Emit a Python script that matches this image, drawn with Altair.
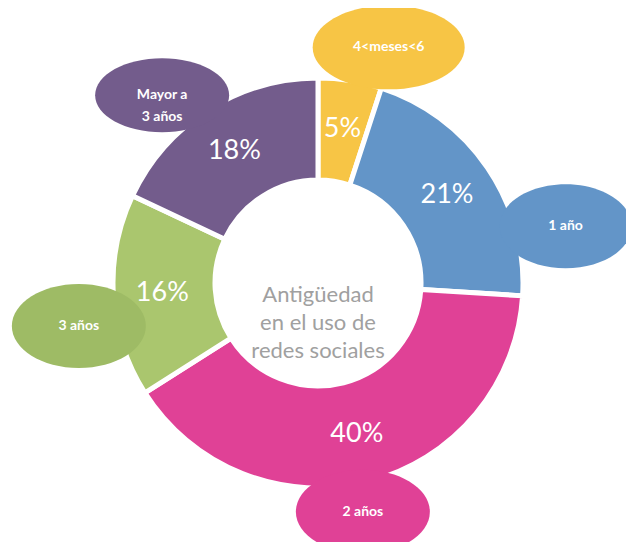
import math
import altair as alt
import pandas as pd

# ---------------- data ----------------
categories = ["4<meses<6", "1 año", "2 años", "3 años", "Mayor a 3 años"]
percent = [5, 21, 40, 16, 18]
pct_labels = ["5%", "21%", "40%", "16%", "18%"]
bubble_lines = [["4<meses<6"], ["1 año"], ["2 años"], ["3 años"], ["Mayor a", "3 años"]]
center_lines = ["Antigüedad", "en el uso de", "redes sociales"]

# ---------------- styles / layout ----------------
seg_colors = ["#F7C545", "#6395C8", "#E04196", "#AAC66E", "#735C8C"]
bubble_colors = ["#F7C545", "#6395C8", "#E04196", "#9EBB65", "#735C8C"]
bubble_angle = [16.7, 77.1, 168.9, 259.8, 320.3]   # degrees clockwise from top
bubble_dist = [246, 254, 233, 243, 244]
bubble_rx = [76, 66, 67, 67, 67]
bubble_ry = [42, 42, 42, 42, 37]

W, H = 600, 518
xs = alt.Scale(domain=[-W / 2, W / 2], nice=False, zero=False)
ys = alt.Scale(domain=[-H / 2, H / 2], nice=False, zero=False, reverse=True)


def ellipse_path(ratio):
    k = 0.5523
    r = ratio
    return (f"M1,0 C1,{k*r:.4f} {k},{r:.4f} 0,{r:.4f} "
            f"C{-k},{r:.4f} -1,{k*r:.4f} -1,0 "
            f"C-1,{-k*r:.4f} {-k},{-r:.4f} 0,{-r:.4f} "
            f"C{k},{-r:.4f} 1,{-k*r:.4f} 1,0 Z")


seg = pd.DataFrame({
    "category": categories,
    "value": percent,
    "label": pct_labels,
    "idx": list(range(len(categories))),
})

bdf = pd.DataFrame({
    "category": categories,
    "bx": [d * math.sin(math.radians(a)) for a, d in zip(bubble_angle, bubble_dist)],
    "by": [-d * math.cos(math.radians(a)) for a, d in zip(bubble_angle, bubble_dist)],
    "path": [ellipse_path(ry / rx) for rx, ry in zip(bubble_rx, bubble_ry)],
    "size": [(2 * rx) ** 2 for rx in bubble_rx],
    "bcolor": bubble_colors,
    "text": bubble_lines,
})

cdf = pd.DataFrame({"bx": [0], "by": [12], "text": [center_lines]})

base = alt.Chart(seg).encode(
    theta=alt.Theta("value:Q", stack=True),
    order=alt.Order("idx:Q"),
)

arcs = base.mark_arc(innerRadius=103, outerRadius=205, stroke="white", strokeWidth=5).encode(
    color=alt.Color("category:N", scale=alt.Scale(domain=categories, range=seg_colors), legend=None)
)

pct = base.mark_text(radius=156, fontSize=27, font="Lato", color="white").encode(
    text="label:N"
)

bubbles = alt.Chart(bdf).mark_point(filled=True, opacity=1, strokeWidth=0).encode(
    x=alt.X("bx:Q", scale=xs, axis=None),
    y=alt.Y("by:Q", scale=ys, axis=None),
    shape=alt.Shape("path:N", scale=None),
    size=alt.Size("size:Q", scale=None),
    fill=alt.Fill("bcolor:N", scale=None),
)

bubble_text = alt.Chart(bdf).mark_text(
    fontSize=14, font="Lato", fontWeight="bold", color="white", lineHeight=22
).encode(
    x=alt.X("bx:Q", scale=xs, axis=None),
    y=alt.Y("by:Q", scale=ys, axis=None),
    text="text",
)

center_text = alt.Chart(cdf).mark_text(
    fontSize=22, font="Lato", color="#A0A0A0", lineHeight=28
).encode(
    x=alt.X("bx:Q", scale=xs, axis=None),
    y=alt.Y("by:Q", scale=ys, axis=None),
    text="text",
)

chart = alt.layer(arcs, bubbles, pct, bubble_text, center_text).properties(
    width=W,
    height=H,
    autosize="none",
    padding={"left": 10, "top": 16, "right": 8, "bottom": 0},
).configure_view(stroke=None)

chart.save("out.html", embed_options={"renderer": "svg", "actions": False})
